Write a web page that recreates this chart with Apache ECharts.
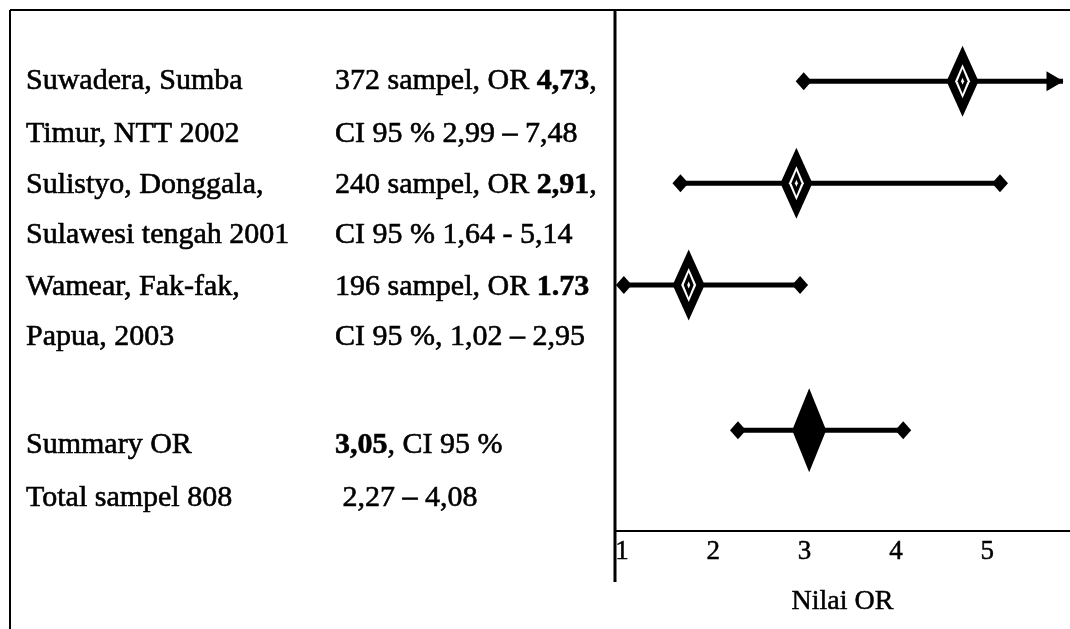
<!DOCTYPE html>
<html>
<head>
<meta charset="utf-8">
<script src="https://cdn.jsdelivr.net/npm/echarts@6/dist/echarts.min.js"></script>
<style>
html,body{margin:0;padding:0;background:#fff;}
#chart{width:1070px;height:629px;}
</style>
</head>
<body>
<div id="chart"></div>
<script>
// ---------- data ----------
const studyLine1 = ['Suwadera, Sumba', 'Sulistyo, Donggala,', 'Wamear, Fak-fak,'];
const studyLine2 = ['Timur, NTT 2002', 'Sulawesi tengah 2001', 'Papua, 2003'];
const sampleSizes = [372, 240, 196];
const orLabels = ['4,73', '2,91', '1.73'];
const orSuffix = [',', ',', ''];
const ciLabels = ['CI 95 % 2,99 \u2013 7,48', 'CI 95 % 1,64 - 5,14', 'CI 95 %, 1,02 \u2013 2,95'];
const orValues = [4.73, 2.91, 1.73];
const ciLow = [2.99, 1.64, 1.02];
const ciHigh = [7.48, 5.14, 2.95];
const summaryLine1 = 'Summary OR';
const summaryLine2 = 'Total sampel 808';
const summaryOrLabel = '3,05';
const summaryCiLabel = ' 2,27 \u2013 4,08';
const summaryOr = 3.05;
const summaryLow = 2.27;
const summaryHigh = 4.08;
const tickValues = [1, 2, 3, 4, 5];
const axisName = 'Nilai OR';

// ---------- layout ----------
const studyRows = [0, 2, 4];
const summaryRow = 6.85;
const xMin = 0.923, xMax = 5.907;
const arrowAt = 5.83;
const FONT = '"Liberation Serif", "Times New Roman", serif';

const chart = echarts.init(document.getElementById('chart'), null, {renderer: 'canvas'});

function ciSeries(lo, hi, row) {
  const clipped = hi > arrowAt;
  const end = clipped
    ? {value: [arrowAt, row], symbol: 'triangle', symbolRotate: -90, symbolSize: [20, 17], symbolOffset: [-8, 0]}
    : {value: [hi, row]};
  return {
    type: 'line', clip: false, silent: true, z: 2,
    data: [{value: [lo, row]}, end],
    symbol: 'diamond', symbolSize: [16, 18], showSymbol: true,
    lineStyle: {color: '#000', width: 5},
    itemStyle: {color: '#000', borderWidth: 0},
    animation: false
  };
}

const studyPts = orValues.map((v, i) => [v, studyRows[i]]);
const series = [];
orValues.forEach((v, i) => series.push(ciSeries(ciLow[i], ciHigh[i], studyRows[i])));
series.push(ciSeries(summaryLow, summaryHigh, summaryRow));
const diamondLayers = [
  {size: [32, 71], color: '#000', z: 3},
  {size: [15, 34], color: '#fff', z: 4},
  {size: [10, 25], color: '#000', z: 5},
  {size: [3, 7], color: '#fff', z: 6}
];
diamondLayers.forEach(l => series.push({
  type: 'scatter', silent: true, z: l.z, data: studyPts,
  symbol: 'diamond', symbolSize: l.size,
  itemStyle: {color: l.color, opacity: 1}, animation: false
}));
series.push({
  type: 'scatter', silent: true, z: 3, data: [[summaryOr, summaryRow]],
  symbol: 'diamond', symbolSize: [34, 84],
  itemStyle: {color: '#000', opacity: 1}, animation: false
});

chart.setOption({
  backgroundColor: '#fff',
  animation: false,
  grid: {left: 615, right: 0, top: 10, bottom: 98, containLabel: false},
  xAxis: {
    type: 'value', min: xMin, max: xMax,
    axisLine: {show: true, onZero: false, lineStyle: {color: '#000', width: 2}},
    axisTick: {show: false},
    splitLine: {show: false},
    axisLabel: {customValues: tickValues, color: '#000', fontSize: 27, fontFamily: FONT, margin: 7,
      textBorderColor: '#000', textBorderWidth: 0.5},
    name: axisName, nameLocation: 'middle', nameGap: 57,
    nameTextStyle: {color: '#000', fontSize: 28, fontFamily: FONT, textBorderColor: '#000', textBorderWidth: 0.5}
  },
  yAxis: {type: 'value', inverse: true, min: -1.4, max: 8.83, show: false},
  series: series
});

// ---------- table text & frame ----------
const rowY = r => chart.convertToPixel({yAxisIndex: 0}, r);
const textEls = [];
function addText(str, x, yVal) {
  textEls.push({
    type: 'text', x: x, y: rowY(yVal), silent: true, z: 10,
    style: {text: str, fontSize: 30, fontFamily: FONT, fill: '#000', stroke: '#000', lineWidth: 0.6,
      verticalAlign: 'middle', align: 'left',
      rich: {b: {fontSize: 30, fontFamily: FONT, fontWeight: 'bold', fill: '#000', stroke: '#000', lineWidth: 0.6}}}
  });
}
const colA = 26, colB = 335;
const line2Gap = 1.04;
studyRows.forEach((r, i) => {
  const r1 = r === 0 ? 0 : r + 0.04;
  addText(studyLine1[i], colA, r1);
  addText(studyLine2[i], colA, r1 + line2Gap - (r === 0 ? 0 : 0.06));
  addText(sampleSizes[i] + ' sampel, OR {b|' + orLabels[i] + '}' + orSuffix[i], colB, r1);
  addText(ciLabels[i], colB, r1 + line2Gap - (r === 0 ? 0 : 0.06));
});
addText(summaryLine1, colA, summaryRow + 0.29);
addText(summaryLine2, colA, summaryRow + 1.33);
addText('{b|' + summaryOrLabel + '}, CI 95 %', colB, summaryRow + 0.29);
addText(summaryCiLabel, colB, summaryRow + 1.33);

const frame = [
  {type: 'line', shape: {x1: 10, y1: 10, x2: 1070, y2: 10}, style: {stroke: '#000', lineWidth: 2}},
  {type: 'line', shape: {x1: 10, y1: 10, x2: 10, y2: 629}, style: {stroke: '#000', lineWidth: 2}},
  {type: 'line', shape: {x1: 615, y1: 10, x2: 615, y2: 582}, style: {stroke: '#000', lineWidth: 3}}
];
chart.setOption({graphic: {elements: frame.concat(textEls).map(e => Object.assign({silent: true}, e))}});
</script>
</body>
</html>
